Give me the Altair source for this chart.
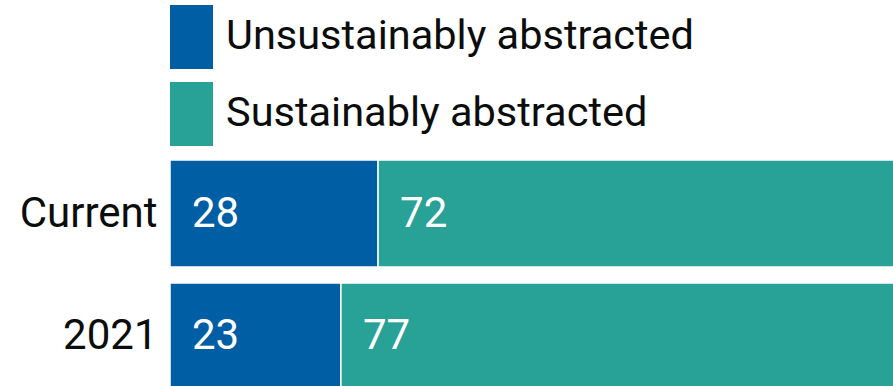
import altair as alt
import pandas as pd

# Share of water bodies by abstraction status (%)
periods = ["Current", "2021"]
categories = ["Unsustainably abstracted", "Sustainably abstracted"]
unsustainable = [28, 23]
sustainable = [72, 77]
colors = ["#005EA5", "#28A197"]

rows = []
for p, u, s in zip(periods, unsustainable, sustainable):
    rows.append({"period": p, "status": categories[0], "order": 0, "value": u})
    rows.append({"period": p, "status": categories[1], "order": 1, "value": s})
df = pd.DataFrame(rows)

FONT = "Roboto"
INK = "#0b0c0c"
rect_path = "M-0.672,-1H0.672V1H-0.672Z"

base = alt.Chart(df).transform_stack(
    stack="value",
    groupby=["period"],
    as_=["v0", "v1"],
    sort=[alt.SortField("order", order="ascending")],
)

x_scale = alt.Scale(domain=[0, 97.3], zero=False, nice=False)
y_scale = alt.Scale(domain=periods, range=[160, 390], paddingInner=0.13, paddingOuter=0)

bars = base.mark_bar(clip=True, stroke="white", strokeWidth=1.5).encode(
    y=alt.Y("period:N", scale=y_scale, sort=periods, title=None,
            axis=alt.Axis(ticks=False, domain=False, labelFont=FONT,
                          labelFontSize=42, labelColor=INK, labelPadding=13)),
    x=alt.X("v0:Q", scale=x_scale, axis=None),
    x2="v1:Q",
    color=alt.Color("status:N", scale=alt.Scale(domain=categories, range=colors),
                    legend=alt.Legend(title=None, orient="none", legendX=-10.5, legendY=5,
                                      symbolType=rect_path, symbolSize=4096,
                                      symbolStrokeWidth=0, symbolOpacity=1,
                                      labelFont=FONT, labelFontSize=41.5, labelColor=INK,
                                      labelOffset=2.5, rowPadding=13, padding=0,
                                      labelLimit=800)),
)

labels = base.mark_text(align="left", baseline="middle", dx=22, font=FONT,
                        fontSize=42, color="white").encode(
    y=alt.Y("period:N", scale=y_scale, sort=periods),
    x=alt.X("v0:Q", scale=x_scale),
    text=alt.Text("value:Q"),
)

chart = (bars + labels).properties(
    width=723, height=386,
    autosize=alt.AutoSizeParams(type="none"),
    padding={"left": 170, "top": 0, "right": 0, "bottom": 0},
).configure_view(stroke=None)

chart.save("out.html", embed_options={"renderer": "svg", "actions": False})
